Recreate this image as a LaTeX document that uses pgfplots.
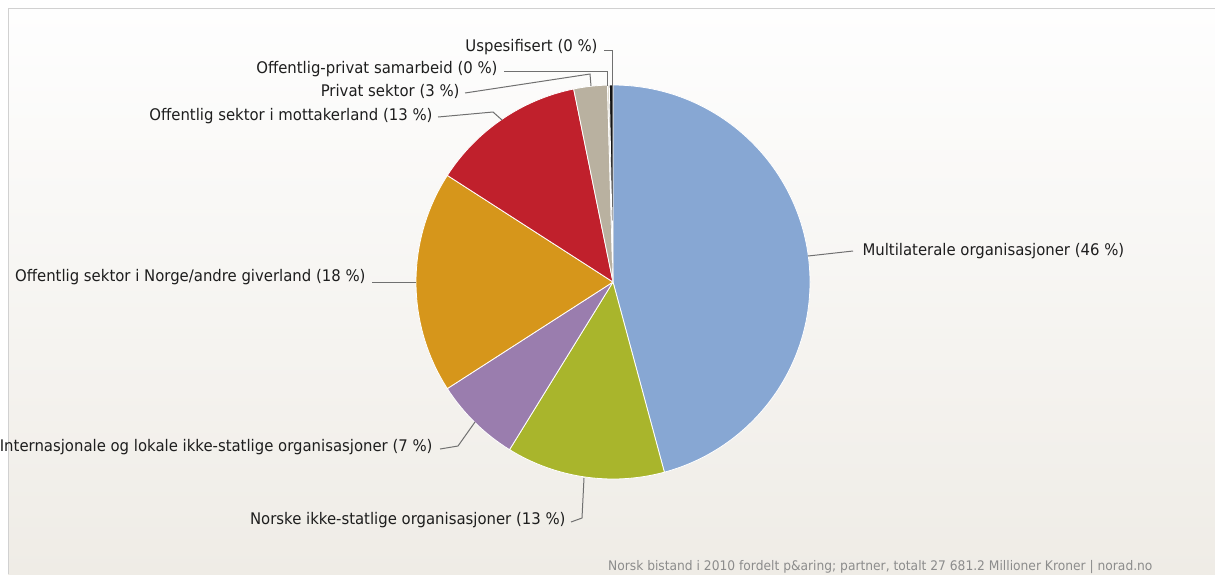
\documentclass[border=0pt]{standalone}
\usepackage{pgfplots}
\usepackage{pgfplotstable}
\pgfplotsset{compat=1.18}
\usepackage{fontspec}
\setmainfont{DejaVu Sans}[FakeStretch=0.93]

\definecolor{cMulti}{HTML}{87A7D3}
\definecolor{cNorske}{HTML}{A9B52C}
\definecolor{cIntl}{HTML}{9A7DAE}
\definecolor{cNorge}{HTML}{D6961B}
\definecolor{cMott}{HTML}{C0202C}
\definecolor{cPriv}{HTML}{B9B1A0}
\definecolor{cOP}{HTML}{DCD6C8}
\definecolor{cUsp}{HTML}{151515}
\definecolor{bgtop}{HTML}{FEFEFE}
\definecolor{bgbot}{HTML}{EFECE6}
\definecolor{leader}{HTML}{707070}
\definecolor{labtext}{HTML}{1E1E1E}

% share of each partner group (percent), clockwise from 12 o'clock
\pgfplotstableread{
pct col
45.8 cMulti
13.0 cNorske
7.1 cIntl
18.2 cNorge
12.7 cMott
2.75 cPriv
0.15 cOP
0.3 cUsp
}\piedata

\begin{document}
\begin{tikzpicture}
\begin{axis}[
  scale only axis, width=1215pt, height=574pt,
  xmin=0, xmax=1215, ymin=0, ymax=574, y dir=reverse,
  hide axis, clip=false,
  every node/.style={inner sep=0pt, outer sep=0pt},
]
\fill[white] (axis cs:0,0) rectangle (axis cs:1215,574);
\shade[top color=bgtop, bottom color=bgbot] (axis cs:8,8) rectangle (axis cs:1215,574);
\draw[black!18, line width=1pt] (axis cs:8.5,574) -- (axis cs:8.5,8.5) -- (axis cs:1215,8.5);

\pgfplotstablegetrowsof{\piedata}
\pgfmathtruncatemacro\nrows{\pgfplotsretval-1}
\def\cum{0}
\pgfplotsforeachungrouped \i in {0,...,\nrows}{%
  \pgfplotstablegetelem{\i}{pct}\of\piedata \let\slicepct\pgfplotsretval
  \pgfplotstablegetelem{\i}{col}\of\piedata \let\slicecol\pgfplotsretval
  \pgfmathsetmacro\sa{90-3.6*\cum}%
  \pgfmathsetmacro\cum{\cum+\slicepct}%
  \pgfmathsetmacro\sb{90-3.6*\cum}%
  \edef\temp{\noexpand\fill[\slicecol, draw=white, line width=0.8pt, line join=round] (axis cs:613,282) -- ++(\sa:197pt) arc[start angle=\sa, end angle=\sb, radius=197pt] -- cycle;}%
  \temp
}

% leader lines
\begin{scope}[leader, line width=1pt]
\draw (axis cs:604,50) -- (axis cs:612,50) -- (axis cs:612,86);
\draw (axis cs:504,71) -- (axis cs:607,71) -- (axis cs:607,86);
\draw (axis cs:465,93) -- (axis cs:590,74) -- (axis cs:591,86);
\draw (axis cs:438,117) -- (axis cs:493,112) -- (axis cs:502,120);
\draw (axis cs:372,282) -- (axis cs:416,282);
\draw (axis cs:440,449) -- (axis cs:458,446) -- (axis cs:475,422);
\draw (axis cs:571,522) -- (axis cs:582,518) -- (axis cs:584,478);
\draw (axis cs:808,256) -- (axis cs:853,251);
\end{scope}

% labels
\begin{scope}[every node/.append style={font=\fontsize{16}{19}\selectfont, text=labtext}]
\node[anchor=mid east] at (axis cs:601,49) {Uspesifisert (0 \%)};
\node[anchor=mid east] at (axis cs:501,71) {Offentlig-privat samarbeid (0 \%)};
\node[anchor=mid east] at (axis cs:463,94) {Privat sektor (3 \%)};
\node[anchor=mid east] at (axis cs:436,118) {Offentlig sektor i mottakerland (13 \%)};
\node[anchor=mid east] at (axis cs:369,279) {Offentlig sektor i Norge/andre giverland (18 \%)};
\node[anchor=mid east] at (axis cs:436,449) {Internasjonale og lokale ikke-statlige organisasjoner (7 \%)};
\node[anchor=mid east] at (axis cs:569,522) {Norske ikke-statlige organisasjoner (13 \%)};
\node[anchor=mid west] at (axis cs:859,253) {Multilaterale organisasjoner (46 \%)};
\end{scope}

\node[anchor=base east, font=\fontsize{13.2}{16}\selectfont, text=black!45] at (axis cs:1156,570) {Norsk bistand i 2010 fordelt p\&aring; partner, totalt 27 681.2 Millioner Kroner | norad.no};
\end{axis}
\pgfresetboundingbox
\useasboundingbox (0,0) rectangle (1215pt,574pt);
\end{tikzpicture}
\end{document}
